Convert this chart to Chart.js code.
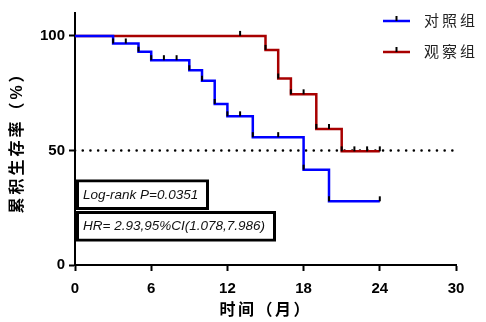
<!DOCTYPE html>
<html>
<head>
<meta charset="utf-8">
<script src="https://cdn.jsdelivr.net/npm/chart.js@4"></script>
<style>
  html, body { margin: 0; padding: 0; background: #fff; }
  #wrap { width: 486px; height: 322px; }
</style>
</head>
<body>
<div id="wrap"><canvas id="km"></canvas></div>
<script>
// Kaplan-Meier steps (months, survival %)
const ctrlTimes = [0, 3, 5, 6, 9, 10, 11, 12, 14, 18, 20, 24];
const ctrlSurv = [100, 96.7, 93.1, 89.4, 85.0, 80.4, 70.3, 64.9, 55.8, 41.6, 27.8, 27.8];
const ctrlCensor = [3, 4, 5, 6, 7, 8, 9, 10, 11, 12, 13, 14, 16, 18, 20, 24];

const obsTimes = [0, 15, 16, 17, 19, 21, 24];
const obsSurv = [100, 93.9, 81.4, 74.5, 59.4, 49.6, 49.6];
const obsCensor = [13, 15, 16, 17, 18, 19, 20, 21, 22, 23, 24];

const refTimes = [0, 30];
const refLevel = [50, 50];

const groupNames = ["对照组", "观察组"];
const xTicks = [0, 6, 12, 18, 24, 30];
const yTicks = [0, 50, 100];
const statText = ["Log-rank P=0.0351", "HR= 2.93,95%CI(1.078,7.986)"];
const xTitle = "时间（月）";
const yTitle = "累积生存率（%）";

const toPoints = (xs, ys) => xs.map((x, i) => ({ x: x, y: ys[i] }));

// survival value of a step curve at time t
function survAt(times, surv, t) {
  let v = surv[0];
  times.forEach((tt, i) => {
    if (tt <= t) v = surv[i];
  });
  return v;
}

const CJK = "'Liberation Sans', 'Noto Sans CJK SC', sans-serif";

// draw text centred with letter spacing (canvas counts the trailing gap)
function spacedText(ctx, txt, x, y, gap) {
  ctx.letterSpacing = gap + "px";
  ctx.fillText(txt, x + gap / 2, y);
  ctx.letterSpacing = "0px";
}

// censor ticks, legend, axis titles and the two stat boxes
const kmExtras = {
  id: "kmExtras",
  afterDatasetsDraw(chart) {
    const ctx = chart.ctx;
    const xs = chart.scales.x;
    const ys = chart.scales.y;
    const groups = [
      [ctrlTimes, ctrlSurv, ctrlCensor],
      [obsTimes, obsSurv, obsCensor],
    ];
    ctx.save();
    ctx.strokeStyle = "#000";
    ctx.lineWidth = 2;
    groups.forEach(([times, surv, cens]) => {
      cens.forEach((t) => {
        const px = xs.getPixelForValue(t);
        const py = ys.getPixelForValue(survAt(times, surv, t));
        ctx.beginPath();
        ctx.moveTo(px, py);
        ctx.lineTo(px, py - 5);
        ctx.stroke();
      });
    });
    ctx.restore();
  },
  afterDraw(chart) {
    const ctx = chart.ctx;
    const area = chart.chartArea;
    ctx.save();

    // axis titles
    ctx.fillStyle = "#000";
    ctx.font = "bold 16px " + CJK;
    ctx.textAlign = "center";
    ctx.textBaseline = "middle";
    spacedText(ctx, xTitle, (area.left + area.right) / 2 - 1, 311, 2.5);
    ctx.save();
    ctx.translate(18, 140);
    ctx.rotate(-Math.PI / 2);
    spacedText(ctx, yTitle, 0, 0, 3);
    ctx.restore();

    // legend
    const colors = [chart.data.datasets[0].borderColor, chart.data.datasets[1].borderColor];
    groupNames.forEach((name, i) => {
      const y = 21 + i * 31;
      ctx.strokeStyle = colors[i];
      ctx.lineWidth = 2.5;
      ctx.beginPath();
      ctx.moveTo(383, y);
      ctx.lineTo(410, y);
      ctx.stroke();
      ctx.strokeStyle = "#000";
      ctx.lineWidth = 2;
      ctx.beginPath();
      ctx.moveTo(396.5, y);
      ctx.lineTo(396.5, y - 5);
      ctx.stroke();
      ctx.fillStyle = "#222";
      ctx.font = "15px " + CJK;
      ctx.textBaseline = "middle";
      ctx.textAlign = "left";
      ctx.letterSpacing = "3px";
      ctx.fillText(name, 424, y + 1);
      ctx.letterSpacing = "0px";
    });

    // stat boxes
    const boxW = [130, 197];
    statText.forEach((txt, i) => {
      const bx = area.left + 2.5;
      const by = 181 + i * 31.5;
      ctx.strokeStyle = "#000";
      ctx.lineWidth = 3;
      ctx.strokeRect(bx, by, boxW[i], 27.5);
      ctx.fillStyle = "#fff";
      ctx.fillRect(bx + 1.5, by + 1.5, boxW[i] - 3, 24.5);
      ctx.fillStyle = "#111";
      ctx.font = "italic 13.5px 'Liberation Sans', Arial, sans-serif";
      ctx.textBaseline = "middle";
      ctx.textAlign = "left";
      ctx.fillText(txt, bx + 5.5, by + 14);
    });
    ctx.restore();
  },
};

const tickFont = { family: "'Liberation Sans', Arial, sans-serif", size: 15, weight: "bold" };
const axisGrid = {
  drawOnChartArea: false,
  drawTicks: true,
  tickLength: 6,
  tickWidth: 2,
  tickColor: "#000",
};

new Chart(document.getElementById("km"), {
  type: "line",
  data: {
    datasets: [
      {
        label: groupNames[0],
        data: toPoints(ctrlTimes, ctrlSurv),
        borderColor: "#0000ff",
        borderWidth: 2.5,
        stepped: true,
        pointRadius: 0,
        fill: false,
      },
      {
        label: groupNames[1],
        data: toPoints(obsTimes, obsSurv),
        borderColor: "#a80000",
        borderWidth: 2.5,
        stepped: true,
        pointRadius: 0,
        fill: false,
      },
      {
        label: "50%",
        data: toPoints(refTimes, refLevel),
        borderColor: "#000",
        borderWidth: 2.5,
        borderDash: [0.1, 7.6],
        borderCapStyle: "round",
        pointRadius: 0,
        fill: false,
      },
    ],
  },
  options: {
    responsive: true,
    maintainAspectRatio: false,
    animation: false,
    layout: { padding: { top: 12, right: 30, left: 0, bottom: 0 } },
    plugins: {
      legend: { display: false },
      tooltip: { enabled: false },
    },
    scales: {
      x: {
        type: "linear",
        min: 0,
        max: 30,
        afterBuildTicks: (s) => { s.ticks = xTicks.map((v) => ({ value: v })); },
        afterFit: (s) => { s.height = 57; },
        grid: axisGrid,
        border: { display: true, color: "#000", width: 2 },
        ticks: { color: "#000", padding: 9, maxRotation: 0, font: tickFont },
      },
      y: {
        min: 0,
        max: 110,
        afterBuildTicks: (s) => { s.ticks = yTicks.map((v) => ({ value: v })); },
        afterFit: (s) => { s.width = 75; },
        grid: axisGrid,
        border: { display: true, color: "#000", width: 2 },
        ticks: { color: "#000", padding: 4, font: tickFont },
      },
    },
  },
  plugins: [kmExtras],
});
</script>
</body>
</html>
